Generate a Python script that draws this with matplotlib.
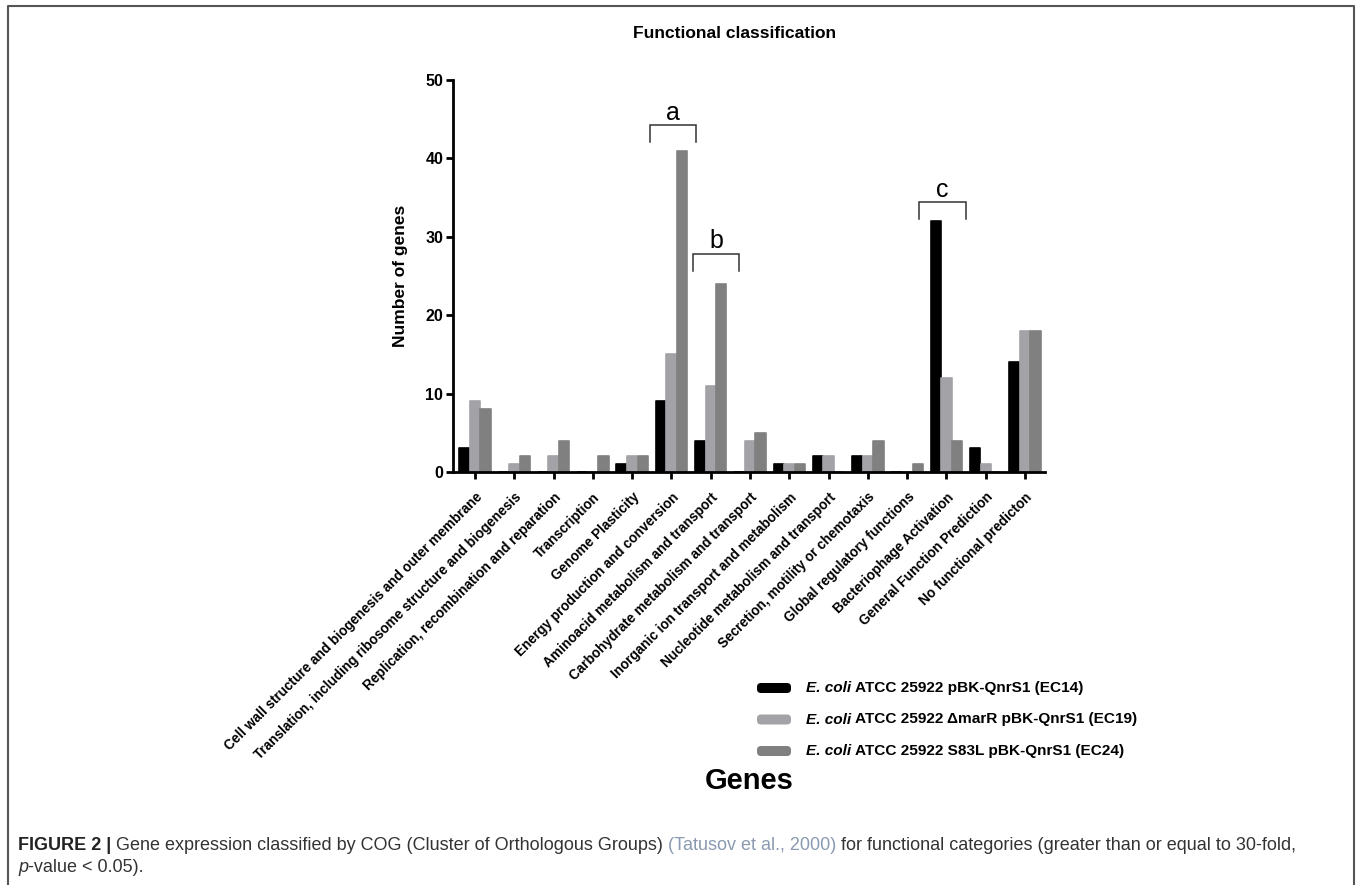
"""
    COG functional classification bar chart
"""

import numpy as np
import matplotlib.pyplot as plt
from matplotlib.patches import FancyBboxPatch
from matplotlib.transforms import IdentityTransform

plt.rcParams['font.family'] = ['Liberation Sans', 'DejaVu Sans']

W, H = 1357, 885  # px

categories = [
    'Cell wall structure and biogenesis and outer membrane',
    'Translation, including ribosome structure and biogenesis',
    'Replication, recombination and reparation',
    'Transcription',
    'Genome Plasticity',
    'Energy production and conversion',
    'Aminoacid metabolism and transport',
    'Carbohydrate metabolism and transport',
    'Inorganic ion transport and metabolism',
    'Nucleotide metabolism and transport',
    'Secretion, motility or chemotaxis',
    'Global regulatory functions',
    'Bacteriophage Activation',
    'General Function Prediction',
    'No functional predicton',
]
ec14 = [3, 0, 0, 0, 1, 9, 4, 0, 1, 2, 2, 0, 32, 3, 14]
ec19 = [9, 1, 2, 0, 2, 15, 11, 4, 1, 2, 2, 0, 12, 1, 18]
ec24 = [8, 2, 4, 2, 2, 41, 24, 5, 1, 0, 4, 1, 4, 0, 18]

series_names = [
    'ATCC 25922 pBK-QnrS1 (EC14)',
    'ATCC 25922 \u0394marR pBK-QnrS1 (EC19)',
    'ATCC 25922 S83L pBK-QnrS1 (EC24)',
]
colors = ['#000000', '#a3a3a7', '#808080']

# significance brackets: label, x start, x end, top value, leg end value
brackets = [('a', 4.46, 5.63, 44.2, 42.1),
            ('b', 5.55, 6.72, 27.8, 25.6),
            ('c', 11.31, 12.50, 34.4, 32.3)]

fig = plt.figure(figsize=(W / 100, H / 100), dpi=100)
ax = fig.add_axes([453 / W, 1 - 472 / H, 592 / W, 392 / H])

x = np.arange(len(categories))
w = 0.27
for off, vals, c in zip([-w, 0, w], [ec14, ec19, ec24], colors):
    ax.bar(x + off, vals, width=w * 0.97, color=c, edgecolor=c, linewidth=1.2,
           joinstyle='round', zorder=1)

ax.set_xlim(-0.56, 14.51)
ax.set_ylim(0, 50)
ax.set_yticks(range(0, 51, 10))
ax.set_xticks(x)
ax.set_xticklabels(categories, rotation=45, ha='right', rotation_mode='anchor',
                   fontsize=9.8, fontweight='bold')
for lab in ax.get_yticklabels():
    lab.set_fontweight('bold')
    lab.set_fontsize(11.5)
ax.tick_params(direction='out', length=5, width=2, color='black')
ax.tick_params(axis='y', pad=2)
ax.tick_params(axis='x', pad=8)
for s in ['top', 'right']:
    ax.spines[s].set_visible(False)
for s in ['left', 'bottom']:
    ax.spines[s].set_linewidth(2)
ax.set_ylabel('Number of genes', fontsize=12.5, fontweight='bold')
ax.yaxis.set_label_coords(-0.076, 0.5)

for lab, x0, x1, top, leg in brackets:
    ax.plot([x0, x0, x1, x1], [leg, top, top, leg], color='#333333', lw=1.1,
            clip_on=False, solid_joinstyle='miter')
    ax.text((x0 + x1) / 2, top + 0.1, lab, ha='center', va='bottom', fontsize=18)

fig.text(735 / W, 1 - 33 / H, 'Functional classification', ha='center', va='center',
         fontsize=12.5, fontweight='bold')
fig.text(749 / W, 1 - 781 / H, 'Genes', ha='center', va='center',
         fontsize=21, fontweight='bold')

renderer = fig.canvas.get_renderer()


def space_width(props):
    t1 = fig.text(0, 0, 'a a', **props)
    t2 = fig.text(0, 0, 'aa', **props)
    d = t1.get_window_extent(renderer).width - t2.get_window_extent(renderer).width
    t1.remove()
    t2.remove()
    return d


def text_runs(xp, yp, runs, **common):
    for txt, kw in runs:
        props = dict(common)
        props.update(kw)
        lead = len(txt) - len(txt.lstrip(' '))
        trail = len(txt) - len(txt.rstrip(' '))
        sp = space_width(props) if (lead or trail) else 0
        xp += lead * sp
        t = fig.text(xp / W, 1 - yp / H, txt.strip(' '), ha='left', va='center', **props)
        xp += t.get_window_extent(renderer).width + trail * sp
    return xp


# legend
for i, (name, c) in enumerate(zip(series_names, colors)):
    yp = 688 + i * 31.5
    fig.add_artist(FancyBboxPatch((757, H - yp - 5), 34, 10,
                                  boxstyle='round,pad=0,rounding_size=4',
                                  transform=IdentityTransform(), facecolor=c,
                                  edgecolor='none'))
    text_runs(806, yp, [('E. coli', {'style': 'italic'}), (' ' + name, {})],
              fontsize=11.1, fontweight='bold')

# caption
cap = dict(fontsize=13, color='#333333')
text_runs(18, 845, [('FIGURE 2 |', {'fontweight': 'bold', 'color': '#222222'}),
                    (' Gene expression classified by COG (Cluster of Orthologous Groups) ', {}),
                    ('(Tatusov et al., 2000)', {'color': '#8a9ab0'}),
                    (' for functional categories (greater than or equal to 30-fold,', {})],
          **cap)
text_runs(18, 868, [('p', {'style': 'italic'}), ('-value < 0.05).', {})], **cap)

# frame around the figure panel
fig.add_artist(plt.Line2D([8 / W, 8 / W, 1354 / W, 1354 / W],
                          [0, 1 - 6 / H, 1 - 6 / H, 0], color='#555555', lw=1.5))

fig.savefig('out.png', dpi=100)
